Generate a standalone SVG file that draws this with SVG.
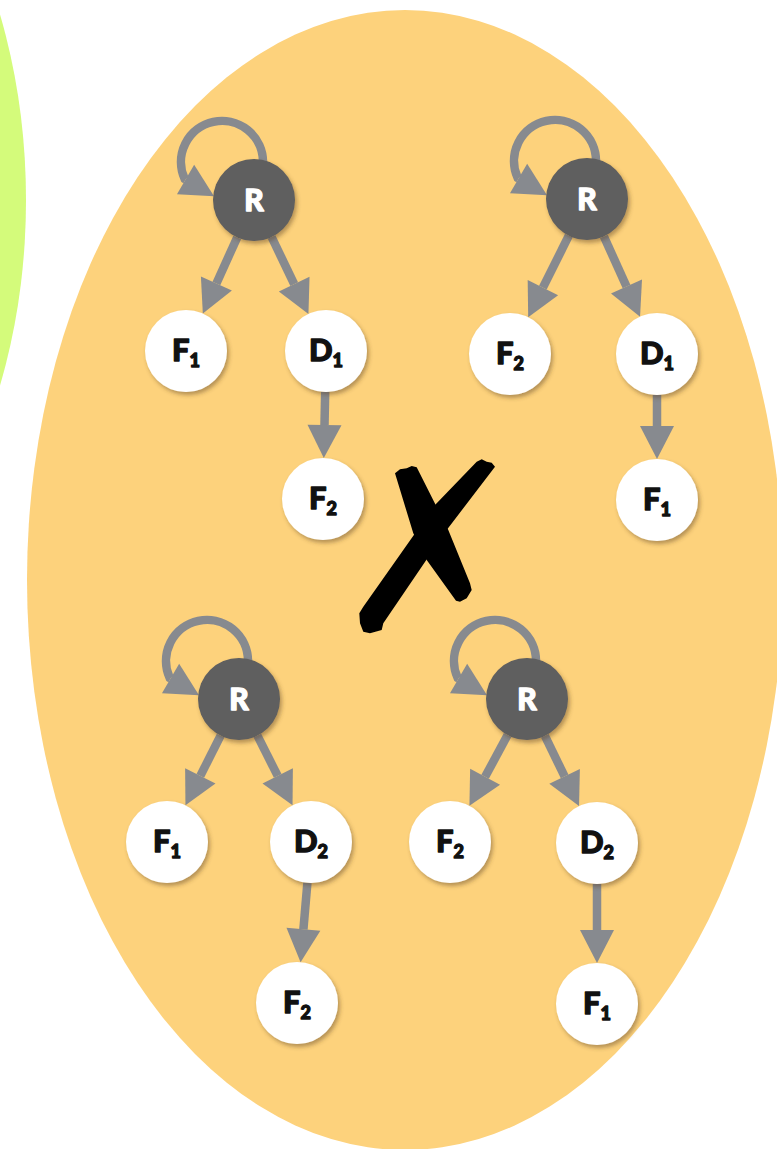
<svg xmlns="http://www.w3.org/2000/svg" width="777" height="1149" viewBox="0 0 777 1149">
  <defs>
    <marker id="head" markerUnits="userSpaceOnUse" markerWidth="34" markerHeight="34" refX="0" refY="17" orient="auto" overflow="visible">
      <path d="M0,0 L33,17 L0,34 Z" fill="#878a8f"/>
    </marker>
    <filter id="shadow" x="-30%" y="-30%" width="170%" height="170%">
      <feDropShadow dx="2" dy="3" stdDeviation="2.2" flood-color="#5a4220" flood-opacity="0.45"/>
    </filter>
    <style>
      .edge { fill: none; stroke: #878a8f; stroke-width: 8.5; marker-end: url(#head); }
      .leaf circle { fill: #ffffff; filter: url(#shadow); }
      .root circle { fill: #5e5e5e; filter: url(#shadow); }
      .lbl { font-family: Lato, "Open Sans", "DejaVu Sans", sans-serif; font-weight: 900; font-size: 31px; fill: #111111; stroke: #111111; stroke-width: 1.3; stroke-linejoin: round; text-anchor: middle; }
      .root .lbl { fill: #ffffff; stroke: #ffffff; font-size: 30px; }
      .sub { font-size: 18px; }
    </style>
  </defs>

  <!-- background sets -->
  <rect width="777" height="1149" fill="#ffffff"/>
  <ellipse id="set-green" cx="-240" cy="200" rx="266" ry="430" fill="#d4fb7b"/>
  <ellipse id="set-orange" cx="405" cy="580" rx="378" ry="570" fill="#fdd27c"/>

  <!-- connectors -->
  <g id="connectors">
    <!-- tree 1 -->
    <path class="edge" d="M263,160 L263,162 A41,41 0 1 0 184.7,179 l0.87,0.51"/>
    <path class="edge" d="M237.2,237.4 L216.4,283.5"/>
    <path class="edge" d="M271.6,237 L294.2,284.2"/>
    <path class="edge" d="M325.2,392 L324.5,425"/>
    <!-- tree 2 -->
    <path class="edge" d="M596,159 L596,161 A41,41 0 1 0 517.7,178 l0.87,0.51"/>
    <path class="edge" d="M568.8,235.7 L542.9,287.7"/>
    <path class="edge" d="M603.9,236.4 L626.5,286.6"/>
    <path class="edge" d="M657,395 L657,426"/>
    <!-- tree 3 -->
    <path class="edge" d="M248,659 L248,661 A41,41 0 1 0 169.7,678 l0.87,0.51"/>
    <path class="edge" d="M220.6,735.6 L200.3,775.9"/>
    <path class="edge" d="M257.4,735.6 L277.7,775.9"/>
    <path class="edge" d="M307.4,882.8 L303.4,929.3"/>
    <!-- tree 4 -->
    <path class="edge" d="M536,659 L536,661 A41,41 0 1 0 457.7,678 l0.87,0.51"/>
    <path class="edge" d="M507.6,735.1 L485.1,776.8"/>
    <path class="edge" d="M544.9,735.9 L564.6,776.4"/>
    <path class="edge" d="M597,884 L597,930"/>
  </g>

  <!-- tree 1 -->
  <g id="t1-R" class="root"><circle cx="254" cy="200" r="41"/><text class="lbl" x="254" y="211">R</text></g>
  <g id="t1-F1" class="leaf"><circle cx="186" cy="351" r="41"/><text class="lbl" x="186" y="361">F<tspan class="sub" dy="6">1</tspan></text></g>
  <g id="t1-D1" class="leaf"><circle cx="326" cy="351" r="41"/><text class="lbl" x="326" y="361">D<tspan class="sub" dy="6">1</tspan></text></g>
  <g id="t1-F2" class="leaf"><circle cx="323" cy="499" r="41"/><text class="lbl" x="323" y="509">F<tspan class="sub" dy="6">2</tspan></text></g>

  <!-- tree 2 -->
  <g id="t2-R" class="root"><circle cx="587" cy="199" r="41"/><text class="lbl" x="587" y="210">R</text></g>
  <g id="t2-F2" class="leaf"><circle cx="510" cy="354" r="41"/><text class="lbl" x="510" y="364">F<tspan class="sub" dy="6">2</tspan></text></g>
  <g id="t2-D1" class="leaf"><circle cx="657" cy="354" r="41"/><text class="lbl" x="657" y="364">D<tspan class="sub" dy="6">1</tspan></text></g>
  <g id="t2-F1" class="leaf"><circle cx="657" cy="500" r="41"/><text class="lbl" x="657" y="510">F<tspan class="sub" dy="6">1</tspan></text></g>

  <!-- tree 3 -->
  <g id="t3-R" class="root"><circle cx="239" cy="699" r="41"/><text class="lbl" x="239" y="710">R</text></g>
  <g id="t3-F1" class="leaf"><circle cx="167" cy="842" r="41"/><text class="lbl" x="167" y="852">F<tspan class="sub" dy="6">1</tspan></text></g>
  <g id="t3-D2" class="leaf"><circle cx="311" cy="842" r="41"/><text class="lbl" x="311" y="852">D<tspan class="sub" dy="6">2</tspan></text></g>
  <g id="t3-F2" class="leaf"><circle cx="297" cy="1003" r="41"/><text class="lbl" x="297" y="1013">F<tspan class="sub" dy="6">2</tspan></text></g>

  <!-- tree 4 -->
  <g id="t4-R" class="root"><circle cx="527" cy="699" r="41"/><text class="lbl" x="527" y="710">R</text></g>
  <g id="t4-F2" class="leaf"><circle cx="450" cy="842" r="41"/><text class="lbl" x="450" y="852">F<tspan class="sub" dy="6">2</tspan></text></g>
  <g id="t4-D2" class="leaf"><circle cx="597" cy="843" r="41"/><text class="lbl" x="597" y="853">D<tspan class="sub" dy="6">2</tspan></text></g>
  <g id="t4-F1" class="leaf"><circle cx="597" cy="1004" r="41"/><text class="lbl" x="597" y="1014">F<tspan class="sub" dy="6">1</tspan></text></g>

  <!-- brush-stroke cross -->
  <g id="cross" fill="#000000">
    <polygon points="395,473.3 400,469.3 406.7,468.3 411.7,466 416.7,467.3 448.3,530 470,583.3 471.7,590 466.7,598.3 460,601.7 456,600.7 426.7,560 413.3,533.3"/>
    <polygon points="476.7,461.7 481.7,459.3 486.7,461.7 491.7,462.7 495,466.7 446.7,530 383.3,623.3 381.7,630 370,633.3 363.3,631.7 360,623.3 359.3,613.3 363.3,606.7 403.3,550 435,505"/>
  </g>
</svg>
